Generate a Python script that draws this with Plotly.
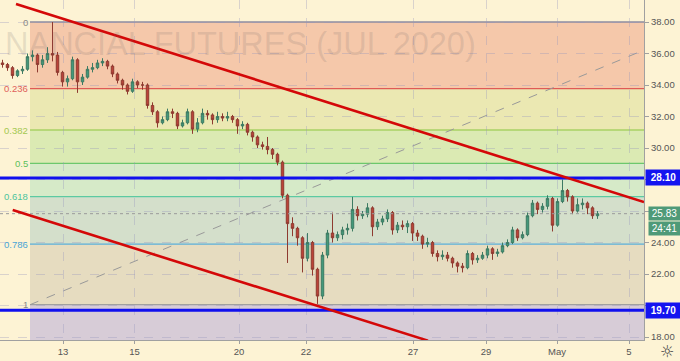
import plotly.graph_objects as go

# ---------------- data ----------------
bars = list(range(120))
opens = [35.4,35.3,35.1,34.6,34.9,35.0,35.8,35.9,35.3,35.6,
         36.0,35.9,34.8,34.2,34.4,35.6,34.2,34.5,35.0,35.1,
         35.4,35.5,35.2,34.7,34.3,34.0,33.6,34.2,34.0,34.0,
         32.7,32.3,31.6,31.8,32.3,32.2,31.4,31.6,32.3,31.2,
         31.6,32.2,32.1,31.8,32.0,31.9,32.0,31.8,31.4,31.5,
         31.0,30.7,30.2,30.1,29.9,29.6,29.1,27.0,25.2,24.9,
         24.3,23.0,24.0,22.3,20.6,23.2,24.6,24.3,24.5,24.8,
         24.9,26.1,25.7,25.8,26.2,25.0,25.3,25.5,25.9,24.8,
         25.1,25.0,25.2,24.6,24.4,23.9,24.0,23.3,23.1,23.2,
         23.0,22.7,22.5,22.4,23.3,22.9,23.0,23.2,23.6,23.3,
         23.4,23.8,24.0,24.8,24.3,24.5,25.7,26.5,26.1,26.3,
         26.8,25.1,26.6,27.3,26.9,26.0,26.4,26.5,26.2,25.7]
closes = [35.3,35.1,34.6,34.9,35.0,35.8,35.9,35.3,35.6,36.0,
          35.9,34.8,34.2,34.4,35.6,34.2,34.5,35.0,35.1,35.4,
          35.5,35.2,34.7,34.3,34.0,33.6,34.2,34.0,34.0,32.7,
          32.3,31.6,31.8,32.3,32.2,31.4,31.6,32.3,31.2,31.6,
          32.2,32.1,31.8,32.0,31.9,32.0,31.8,31.4,31.5,31.0,
          30.7,30.2,30.1,29.9,29.6,29.1,27.0,25.2,24.9,24.3,
          23.0,24.0,22.3,20.6,23.2,24.6,24.3,24.5,24.8,24.9,
          26.1,25.7,25.8,26.2,25.0,25.3,25.5,25.9,24.8,25.1,
          25.0,25.2,24.6,24.4,23.9,24.0,23.3,23.1,23.2,23.0,
          22.7,22.5,22.4,23.3,22.9,23.0,23.2,23.6,23.3,23.4,
          23.8,24.0,24.8,24.3,24.5,25.7,26.5,26.1,26.3,26.8,
          25.1,26.6,27.3,26.9,26.0,26.4,26.5,26.2,25.7,25.83]
highs = [35.6,35.4,35.2,35.0,35.2,36.0,36.2,36.0,35.9,36.4,
         38.0,36.1,34.9,34.6,35.8,35.7,34.7,35.2,35.4,35.6,
         35.7,35.6,35.3,34.8,34.4,34.1,34.4,34.3,34.2,34.1,
         32.9,32.4,32.0,32.5,32.5,32.3,31.8,32.5,32.4,31.9,
         32.5,32.4,32.2,32.3,32.2,32.3,32.1,31.9,31.7,31.6,
         31.1,30.8,30.4,30.7,30.0,29.7,29.2,27.1,25.6,25.0,
         24.4,24.6,24.1,22.4,23.4,24.8,25.9,24.7,25.0,25.2,
         26.9,26.3,26.0,26.5,26.3,25.5,25.7,26.1,26.0,25.3,
         25.4,25.4,25.3,24.8,24.5,24.3,24.1,23.5,23.5,23.4,
         23.1,22.8,22.7,23.5,23.4,23.2,23.4,23.8,23.7,23.6,
         24.0,24.2,25.0,24.9,24.7,25.9,26.7,26.6,26.5,27.0,
         26.9,26.8,28.0,27.4,27.0,26.8,26.8,26.6,26.3,26.0]
lows = [35.1,34.9,34.4,34.5,34.7,34.9,35.5,34.8,35.1,35.4,
        35.5,34.6,33.9,33.9,34.3,33.5,34.0,34.4,34.8,35.0,
        35.2,35.0,34.5,34.1,33.7,33.4,33.5,33.8,33.7,32.5,
        32.1,31.3,31.5,31.7,31.9,31.2,31.3,31.5,30.9,31.0,
        31.5,31.8,31.5,31.6,31.7,31.7,31.6,30.9,31.2,30.8,
        30.4,30.0,29.9,29.6,29.3,28.9,26.8,22.7,24.4,23.8,
        22.1,22.8,21.9,20.1,20.4,23.0,24.0,24.1,24.2,24.5,
        24.7,25.4,25.5,25.6,24.4,24.8,25.1,25.3,24.5,24.6,
        24.8,24.6,24.1,24.1,23.6,23.7,23.1,22.8,22.9,22.8,
        22.4,22.1,22.1,22.3,22.6,22.7,22.9,23.0,22.9,23.1,
        23.3,23.7,23.9,24.1,24.2,24.4,25.6,25.8,25.9,26.1,
        24.7,25.0,26.5,26.6,25.8,25.9,26.1,25.8,25.5,25.5]

tick_labels = ["13", "15", "20", "22", "27", "29", "May", "5"]
tick_bars = [12.1, 26.4, 47.3, 60.7, 82.1, 96.7, 110.9, 125.3]

price_ticks = [18, 20, 22, 24, 26, 28, 30, 32, 34, 36, 38]
price_tick_labels = ["18.00", "", "22.00", "24.00", "", "", "30.00", "32.00", "34.00", "36.00", "38.00"]

fib_high = 38.0
fib_low = 20.05
fib_ratios = [0, 0.236, 0.382, 0.5, 0.618, 0.786, 1]
fib_labels = ["0", "0.236", "0.382", "0.5", "0.618", "0.786", "1"]
fib_start_bar = 5.5

level_resist = 28.10
level_support = 19.70
last_price = 25.83
countdown = "24:41"

upper_trend_bars = [2.7, 128.3]
upper_trend_prices = [39.14, 26.57]
lower_trend_bars = [2.04, 85.1]
lower_trend_prices = [26.06, 17.77]
fib_diag_bars = [5.5, 128.3]
fib_diag_prices = [20.05, 36.22]

# ---------------- styling ----------------
BG = "#fdf3d4"
FONT = "Liberation Sans, Arial"
x_range = [-0.5, 128.3]
y_range = [17.81, 39.397]
zone_colors = ["#f5c8aa", "#ebe8b2", "#dbeab3", "#d6eac8", "#d4dfcb", "#e6dcc0"]
below_color = "#d7ccd7"
line_colors = ["#8c8ca0", "#e05a55", "#a9d265", "#6cc86c", "#5ccaa2", "#5aaed8", "#a0a0a0"]
label_colors = ["#888888", "#e0605a", "#a3c850", "#5cbf5c", "#4cc49c", "#4aa6d6", "#888888"]

fig = go.Figure()
fig.add_trace(go.Candlestick(
    x=bars, open=opens, high=highs, low=lows, close=closes,
    increasing=dict(line=dict(color="#3c7a62", width=1), fillcolor="#43987a"),
    decreasing=dict(line=dict(color="#8e3a30", width=1), fillcolor="#bb4238"),
    whiskerwidth=0, showlegend=False, hoverinfo="skip"))

shapes = []
levels = [fib_high - r * (fib_high - fib_low) for r in fib_ratios]
for i in range(len(levels) - 1):
    shapes.append(dict(type="rect", xref="x", yref="y", x0=fib_start_bar, x1=x_range[1],
                       y0=levels[i + 1], y1=levels[i], fillcolor=zone_colors[i],
                       line=dict(width=0), layer="below"))
shapes.append(dict(type="rect", xref="x", yref="y", x0=fib_start_bar, x1=x_range[1],
                   y0=y_range[0], y1=levels[-1], fillcolor=below_color,
                   line=dict(width=0), layer="below"))
for lv, col in zip(levels, line_colors):
    shapes.append(dict(type="line", xref="x", yref="y", x0=fib_start_bar, x1=x_range[1],
                       y0=lv, y1=lv, line=dict(color=col, width=1.3), layer="below"))
# fib diagonal
shapes.append(dict(type="line", xref="x", yref="y", x0=fib_diag_bars[0], x1=fib_diag_bars[1],
                   y0=fib_diag_prices[0], y1=fib_diag_prices[1],
                   line=dict(color="#999999", width=1, dash="dash"), layer="below"))
# current price dotted
shapes.append(dict(type="line", xref="paper", yref="y", x0=0, x1=1, y0=last_price, y1=last_price,
                   line=dict(color="#9a9a9a", width=1, dash="dot"), layer="above"))
# blue levels
for lv in [level_resist, level_support]:
    shapes.append(dict(type="line", xref="paper", yref="y", x0=0, x1=1, y0=lv, y1=lv,
                       line=dict(color="#1010ee", width=3), layer="above"))
# red trend lines
shapes.append(dict(type="line", xref="x", yref="y", x0=upper_trend_bars[0], x1=upper_trend_bars[1],
                   y0=upper_trend_prices[0], y1=upper_trend_prices[1],
                   line=dict(color="#d40808", width=2.6), layer="above"))
shapes.append(dict(type="line", xref="x", yref="y", x0=lower_trend_bars[0], x1=lower_trend_bars[1],
                   y0=lower_trend_prices[0], y1=lower_trend_prices[1],
                   line=dict(color="#d40808", width=2.6), layer="above"))

annotations = []
# watermark
annotations.append(dict(text="NANCIAL FUTURES (JUL 2020)", xref="paper", yref="paper",
                        x=0.004, y=0.872, xanchor="left", yanchor="middle", showarrow=False,
                        font=dict(family=FONT, size=32.5, color="rgba(110,100,100,0.17)")))
for lv, lab, col in zip(levels, fib_labels, label_colors):
    annotations.append(dict(text=lab, xref="x", yref="y", x=5.2, y=lv, xanchor="right",
                            yanchor="middle", showarrow=False, borderpad=0,
                            font=dict(family=FONT, size=9.5, color=col)))
for lv in [level_resist, level_support]:
    annotations.append(dict(text="<b>%.2f</b>" % lv, xref="paper", yref="y", x=1, y=lv,
                            xanchor="left", yanchor="middle", xshift=1, showarrow=False,
                            bgcolor="#1414f0", borderpad=2, width=31,
                            font=dict(family=FONT, size=10, color="white")))
annotations.append(dict(text="%.2f" % last_price, xref="paper", yref="y", x=1, y=last_price,
                        xanchor="left", yanchor="middle", xshift=4, showarrow=False,
                        bgcolor="#4f9a78", borderpad=1, width=29,
                        font=dict(family=FONT, size=10, color="white")))
annotations.append(dict(text=countdown, xref="paper", yref="y", x=1, y=last_price,
                        xanchor="left", yanchor="middle", xshift=4, yshift=-15, showarrow=False,
                        bgcolor="#4f9a78", borderpad=1, width=29,
                        font=dict(family=FONT, size=10, color="white")))
annotations.append(dict(text="☼", xref="paper", yref="paper", x=1.0357, y=-0.035,
                        xanchor="center", yanchor="middle", showarrow=False, borderpad=0,
                        font=dict(family="DejaVu Sans", size=16, color="#444444")))

fig.update_layout(
    width=680, height=361,
    margin=dict(l=0, r=36, t=0, b=21),
    paper_bgcolor=BG, plot_bgcolor=BG,
    shapes=shapes, annotations=annotations,
    showlegend=False,
    font=dict(family=FONT, size=9.5, color="#555555"),
    xaxis=dict(range=x_range, rangeslider=dict(visible=False), tickmode="array",
               tickvals=tick_bars, ticktext=tick_labels, showgrid=True,
               gridcolor="rgba(150,150,190,0.35)", griddash="dash", gridwidth=1,
               showline=True, linecolor="#a0a0a0", ticks="outside", ticklen=3,
               tickcolor="#a0a0a0", zeroline=False, fixedrange=True,
               tickfont=dict(size=9.5, color="#555555")),
    yaxis=dict(range=y_range, side="right", tickmode="array", tickvals=price_ticks,
               ticktext=price_tick_labels,
               showgrid=True, gridcolor="rgba(150,150,190,0.35)", griddash="dash",
               showline=True, linecolor="#a0a0a0", ticks="outside", ticklen=4,
               tickcolor="#a0a0a0", zeroline=False, fixedrange=True,
               tickfont=dict(size=9.5, color="#555555")),
)

fig.write_html("out.html", config={"displayModeBar": False},
               post_script="document.body.style.margin='0';document.body.style.overflow='hidden';")
